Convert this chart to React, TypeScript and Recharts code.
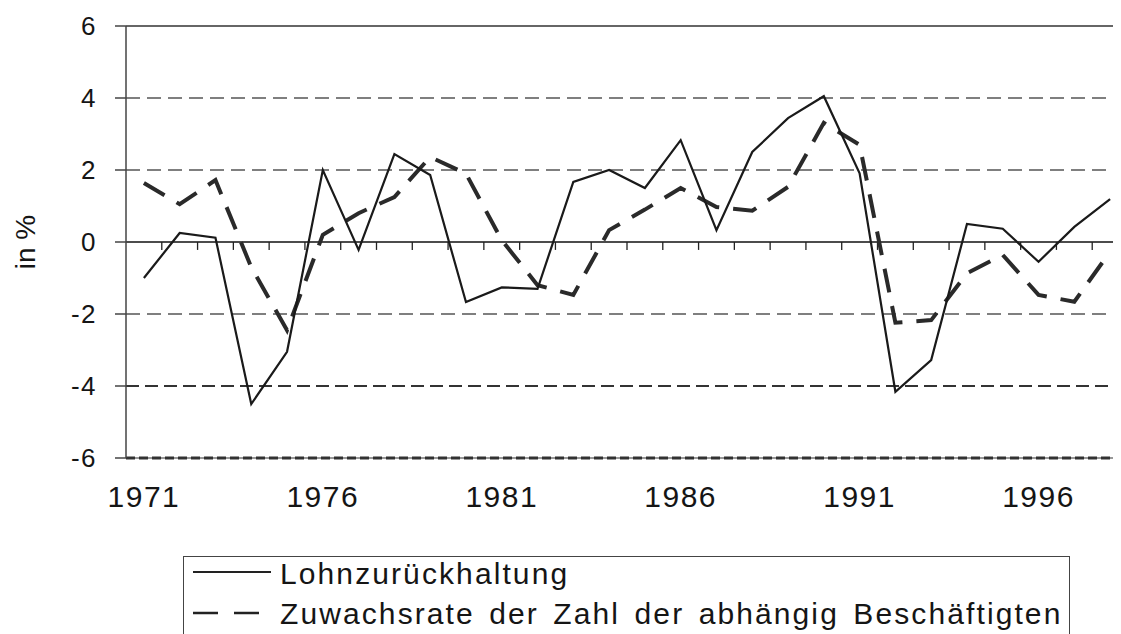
import { LineChart, Line, XAxis, YAxis, ReferenceLine } from "recharts";

const years = [
  1971, 1972, 1973, 1974, 1975, 1976, 1977, 1978, 1979, 1980, 1981, 1982, 1983, 1984,
  1985, 1986, 1987, 1988, 1989, 1990, 1991, 1992, 1993, 1994, 1995, 1996, 1997, 1998,
];

// Lohnzurückhaltung (solid)
const lohn = [
  -1.0, 0.25, 0.12, -4.5, -3.05, 2.0, -0.22, 2.44, 1.86, -1.67, -1.26, -1.3, 1.67, 2.0,
  1.5, 2.83, 0.33, 2.5, 3.44, 4.05, 1.91, -4.16, -3.28, 0.5, 0.37, -0.55, 0.42, 1.19,
];

// Zuwachsrate der Zahl der abhängig Beschäftigten (dashed)
const beschaeftigte = [
  1.64, 1.05, 1.72, -0.7, -2.45, 0.2, 0.8, 1.25, 2.36, 1.9, 0.05, -1.2, -1.47, 0.33,
  0.9, 1.5, 0.97, 0.87, 1.53, 3.31, 2.7, -2.24, -2.17, -0.87, -0.36, -1.47, -1.66, -0.27,
];

const yearTicks = [1971, 1976, 1981, 1986, 1991, 1996];
const valueTicks = [-6, -4, -2, 0, 2, 4, 6];

const data = years.map((year, i) => ({ year, lohn: lohn[i], besch: beschaeftigte[i] }));
const boundaries = years.slice(1).map((y) => y - 0.5);

const font = "Arial, 'Liberation Sans', sans-serif";

const YearTick = ({ x, y, payload }: any) => (
  <text x={x} y={y + 30} textAnchor="middle" fontSize={30} fill="#151515" fontFamily={font} letterSpacing={1.5}>
    {payload.value}
  </text>
);

const ValueTick = ({ x, y, payload }: any) => (
  <text x={x} y={y} textAnchor="end" dominantBaseline="central" fontSize={26} fill="#151515" fontFamily={font} letterSpacing={1.5}>
    {payload.value}
  </text>
);

export default function App() {
  return (
    <div
      style={{
        position: "relative",
        width: 1113,
        height: 626,
        overflow: "hidden",
        fontFamily: font,
        background: "#fff",
      }}
    >
      <style>{"html,body{overflow:hidden}"}</style>
      <LineChart width={1125} height={626} data={data} margin={{ top: 18, right: 5, left: 0, bottom: 146 }}>
        <XAxis
          type="number"
          dataKey="year"
          domain={[1970.5, 1998.5]}
          ticks={yearTicks}
          allowDataOverflow
          tickSize={0}
          tickMargin={19}
          axisLine={{ stroke: "#333", strokeWidth: 1.2 }}
          tick={<YearTick />}
        />
        <YAxis
          domain={[-6, 6]}
          ticks={valueTicks}
          width={118}
          tickSize={11}
          tickMargin={18}
          axisLine={{ stroke: "#444", strokeWidth: 1.5 }}
          tickLine={{ stroke: "#444", strokeWidth: 1.5 }}
          tick={<ValueTick />}
          label={{
            content: ({ viewBox }: any) => (
              <text
                x={viewBox.x + 17}
                y={viewBox.y + viewBox.height / 2}
                transform={`rotate(-90 ${viewBox.x + 17} ${viewBox.y + viewBox.height / 2})`}
                textAnchor="middle"
                dominantBaseline="central"
                fontSize={28}
                fill="#151515"
                fontFamily={font}
              >
                in %
              </text>
            ),
          }}
        />
        <ReferenceLine y={6} stroke="#333" strokeWidth={1.5} />
        <ReferenceLine y={4} stroke="#555" strokeWidth={1.5} strokeDasharray="14 7" />
        <ReferenceLine y={2} stroke="#555" strokeWidth={1.5} strokeDasharray="14 7" />
        <ReferenceLine y={-2} stroke="#555" strokeWidth={1.5} strokeDasharray="14 7" />
        <ReferenceLine y={-4} stroke="#333" strokeWidth={2.2} strokeDasharray="13 6" />
        <ReferenceLine y={-6} stroke="#333" strokeWidth={3} strokeDasharray="9 4" />
        <ReferenceLine y={0} stroke="#111" strokeWidth={1.5} />
        {boundaries.map((b) => (
          <ReferenceLine
            key={b}
            segment={[
              { x: b, y: 0 },
              { x: b, y: -0.22 },
            ]}
            stroke="#222"
            strokeWidth={1.3}
          />
        ))}
        <Line
          type="linear"
          dataKey="besch"
          stroke="#2a2a2a"
          strokeWidth={4}
          strokeDasharray="24 14"
          dot={false}
          isAnimationActive={false}
        />
        <Line type="linear" dataKey="lohn" stroke="#1a1a1a" strokeWidth={2.2} dot={false} isAnimationActive={false} />
      </LineChart>

      <div
        style={{
          position: "absolute",
          left: 175,
          top: 548,
          width: 887,
          height: 120,
          border: "1.5px solid #444",
          boxSizing: "border-box",
          color: "#151515",
          fontSize: 30,
          letterSpacing: 2.1,
          wordSpacing: 4,
          lineHeight: "30px",
        }}
      >
        <div style={{ position: "absolute", left: 9, top: 2, display: "flex", alignItems: "center" }}>
          <svg width={80} height={30} style={{ display: "block" }}>
            <line x1={0} y1={13} x2={78} y2={13} stroke="#222" strokeWidth={2} />
          </svg>
          <span style={{ marginLeft: 7 }}>Lohnzurückhaltung</span>
        </div>
        <div style={{ position: "absolute", left: 9, top: 42, display: "flex", alignItems: "center" }}>
          <svg width={80} height={30} style={{ display: "block" }}>
            <line x1={0} y1={14} x2={78} y2={14} stroke="#222" strokeWidth={2.5} strokeDasharray="25 16" />
          </svg>
          <span style={{ marginLeft: 7, whiteSpace: "nowrap" }}>Zuwachsrate der Zahl der abhängig Beschäftigten</span>
        </div>
      </div>
    </div>
  );
}
